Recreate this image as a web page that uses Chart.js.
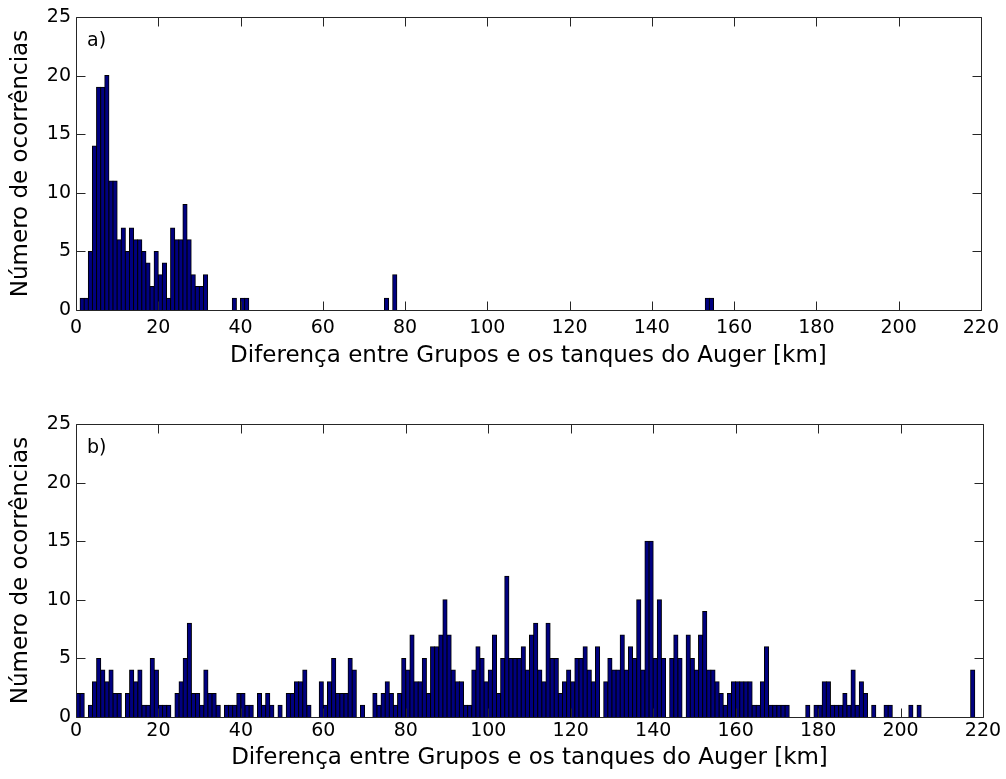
<!DOCTYPE html>
<html><head><meta charset="utf-8">
<script src="https://cdn.jsdelivr.net/npm/chart.js@4.4.1/dist/chart.umd.min.js"></script>
<style>
html,body{margin:0;padding:0;background:#fff;}
#wrap{position:relative;width:1006px;height:779px;overflow:hidden;background:#fff;}
.panel{position:absolute;left:0;width:1006px;}
#pa{top:0;height:390px;}
#pb{top:395px;height:384px;}
.tag{position:absolute;font-family:"DejaVu Sans",sans-serif;font-size:19px;line-height:19px;color:#000;}
</style></head><body>
<div id="wrap">
<div class="panel" id="pa"><canvas id="ca"></canvas></div>
<div class="panel" id="pb"><canvas id="cb"></canvas></div>
<div class="tag" style="left:87px;top:30px">a)</div>
<div class="tag" style="left:87px;top:437px">b)</div>
</div>
<script>
// ---- data ----
const xTicks = [0,20,40,60,80,100,120,140,160,180,200,220];
const yTicks = [0,5,10,15,20,25];
const xLabel = 'Diferença entre Grupos e os tanques do Auger [km]';
const yLabel = 'Número de ocorrências';
const binStartKm = 0;   // first bin left edge
const binWidthKm = 1;   // histogram bin width (km)

// a) counts per 1 km bin, 0..219
const countsA = [
 0,1,1,5,14,19,19,20,11,11,6,7,5,7,6,6,5,4,2,5,
 3,4,1,7,6,6,9,6,3,2,2,3,0,0,0,0,0,0,1,0,
 1,1,0,0,0,0,0,0,0,0,0,0,0,0,0,0,0,0,0,0,
 0,0,0,0,0,0,0,0,0,0,0,0,0,0,0,1,0,3,0,0,
 0,0,0,0,0,0,0,0,0,0,0,0,0,0,0,0,0,0,0,0,
 0,0,0,0,0,0,0,0,0,0,0,0,0,0,0,0,0,0,0,0,
 0,0,0,0,0,0,0,0,0,0,0,0,0,0,0,0,0,0,0,0,
 0,0,0,0,0,0,0,0,0,0,0,0,0,1,1,0,0,0,0,0,
 0,0,0,0,0,0,0,0,0,0,0,0,0,0,0,0,0,0,0,0,
 0,0,0,0,0,0,0,0,0,0,0,0,0,0,0,0,0,0,0,0,
 0,0,0,0,0,0,0,0,0,0,0,0,0,0,0,0,0,0,0,0
];

// b) counts per 1 km bin, 0..219
const countsB = [
 2,2,0,1,3,5,4,3,4,2,2,0,2,4,3,4,1,1,5,4,
 1,1,1,0,2,3,5,8,2,2,1,4,2,2,1,0,1,1,1,2,
 2,1,1,0,2,1,2,1,0,1,0,2,2,3,3,4,1,0,0,3,
 1,3,5,2,2,2,5,4,0,1,0,0,2,1,2,3,2,1,2,5,
 4,7,3,3,5,2,6,6,7,10,7,4,3,3,1,1,4,6,5,3,
 4,7,2,5,12,5,5,5,6,4,7,8,4,3,8,5,5,2,3,4,
 3,5,5,6,4,3,6,0,3,5,4,4,7,4,6,5,10,4,15,15,
 5,10,5,0,5,7,5,0,7,5,4,7,9,4,4,3,2,1,2,3,
 3,3,3,3,1,1,3,6,1,1,1,1,1,0,0,0,0,1,0,1,
 1,3,3,1,1,1,2,1,4,1,3,2,0,1,0,0,1,1,0,0,
 0,0,1,0,1,0,0,0,0,0,0,0,0,0,0,0,0,4,0,0
];

function binPoints(counts){
  return counts.map((c,i)=>({x: binStartKm + binWidthKm*(i+0.5), y: c}));
}

const boxPlugin = {
  id:'box',
  afterDatasetsDraw(chart){
    const {ctx, chartArea:a, scales:{x,y}} = chart;
    ctx.save();
    ctx.strokeStyle = '#262626'; ctx.lineWidth = 1;
    const L = Math.round(a.left)+0.5, R = Math.round(a.right)+0.5;
    const T = Math.round(a.top)+0.5, B = Math.round(a.bottom)+0.5;
    const tl = 9;
    ctx.beginPath();
    ctx.rect(L, T, R-L, B-T);
    xTicks.forEach(v=>{
      const px = Math.round(x.getPixelForValue(v))+0.5;
      ctx.moveTo(px,B); ctx.lineTo(px,B-tl);
      ctx.moveTo(px,T); ctx.lineTo(px,T+tl);
    });
    yTicks.forEach(v=>{
      const py = Math.round(y.getPixelForValue(v))+0.5;
      ctx.moveTo(L,py); ctx.lineTo(L+tl,py);
      ctx.moveTo(R,py); ctx.lineTo(R-tl,py);
    });
    ctx.stroke();
    ctx.restore();
  }
};

function makeChart(id, counts, cfg){
  return new Chart(document.getElementById(id), {
    type:'bar',
    data:{datasets:[{
      data: binPoints(counts),
      backgroundColor:'#000080',
      borderColor:'#000',
      borderWidth:{top:1,left:1,right:1,bottom:0},
      borderSkipped:false,
      barPercentage:1,
      categoryPercentage:1,
      inflateAmount:0.5
    }]},
    options:{
      responsive:true, maintainAspectRatio:false, animation:false, devicePixelRatio:1,
      layout:{padding:{top:cfg.top,right:23,left:0,bottom:0}},
      plugins:{legend:{display:false}, tooltip:{enabled:false}},
      scales:{
        x:{
          type:'linear', min:0, max:220, offset:false,
          grid:{display:false, drawTicks:false, offset:false},
          border:{display:false},
          afterBuildTicks:s=>{ s.ticks = xTicks.map(v=>({value:v})); },
          afterFit:s=>{ s.height = cfg.xh; },
          ticks:{padding:cfg.xtp, autoSkip:false, maxRotation:0, color:'#000',
                 font:{family:'DejaVu Sans', size:19}},
          title:{display:true, text:xLabel, color:'#000',
                 font:{family:'DejaVu Sans', size:23},
                 padding:{top:0,bottom:cfg.xtb}}
        },
        y:{
          type:'linear', min:0, max:25,
          grid:{display:false, drawTicks:false},
          border:{display:false},
          afterBuildTicks:s=>{ s.ticks = yTicks.map(v=>({value:v})); },
          afterFit:s=>{ s.width = 76; },
          ticks:{padding:5, color:'#000', font:{family:'DejaVu Sans', size:19}},
          title:{display:true, text:yLabel, color:'#000',
                 font:{family:'DejaVu Sans', size:23},
                 padding:{top:7,bottom:0}}
        }
      }
    },
    plugins:[boxPlugin]
  });
}

makeChart('ca', countsA, {top:17, xh:80, xtp:7, xtb:20});
makeChart('cb', countsB, {top:29, xh:62, xtp:3, xtb:7});
</script>
</body></html>
